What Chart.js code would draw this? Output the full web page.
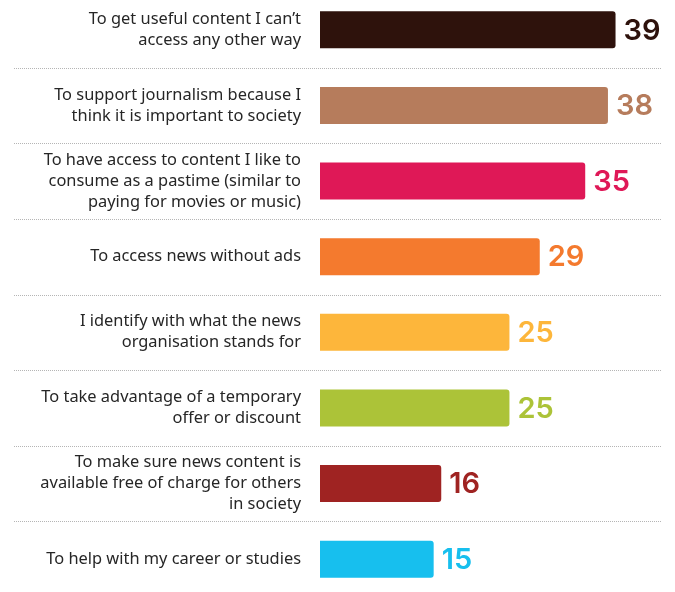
<!DOCTYPE html>
<html>
<head>
<meta charset="utf-8">
<script src="https://cdn.jsdelivr.net/npm/chart.js@4"></script>
<style>
    html, body { margin: 0; padding: 0; background: #fff; overflow: hidden; }
    #wrap { position: absolute; left: 0; top: -8px; width: 675px; height: 605px; }
</style>
</head>
<body>
<div id="wrap"><canvas id="reasonChart"></canvas></div>
<script>
// reasons for paying for online news (%)
var reasons = [
    ['To get useful content I can\u2019t', 'access any other way'],
    ['To support journalism because I', 'think it is important to society'],
    ['To have access to content I like to', 'consume as a pastime (similar to', 'paying for movies or music)'],
    ['To access news without ads'],
    ['I identify with what the news', 'organisation stands for'],
    ['To take advantage of a temporary', 'offer or discount'],
    ['To make sure news content is', 'available free of charge for others', 'in society'],
    ['To help with my career or studies']
];
var percents = [39, 38, 35, 29, 25, 25, 16, 15];
var barColors = ['#2e120c', '#b67c5c', '#df1857', '#f47a2e', '#fdb63b', '#acc338', '#9f2322', '#17bfee'];

// dotted separators between the rows
var separatorPlugin = {
    id: 'separators',
    beforeDatasetsDraw: function (chart) {
        var ctx = chart.ctx;
        var yScale = chart.scales.y;
        ctx.save();
        ctx.strokeStyle = '#b5b5b5';
        ctx.lineWidth = 1;
        ctx.setLineDash([1, 1]);
        for (var i = 0; i < reasons.length - 1; i++) {
            var y = Math.round((yScale.getPixelForValue(i) + yScale.getPixelForValue(i + 1)) / 2) + 0.5;
            ctx.beginPath();
            ctx.moveTo(14, y);
            ctx.lineTo(chart.chartArea.right, y);
            ctx.stroke();
        }
        ctx.restore();
    }
};

// value at the end of each bar
var valuePlugin = {
    id: 'values',
    afterDatasetsDraw: function (chart) {
        var ctx = chart.ctx;
        var meta = chart.getDatasetMeta(0);
        ctx.save();
        ctx.font = '600 29px Inter';
        ctx.textAlign = 'left';
        ctx.textBaseline = 'middle';
        meta.data.forEach(function (bar, i) {
            ctx.fillStyle = barColors[i];
            ctx.fillText(percents[i], bar.x + 8, bar.y + 1);
        });
        ctx.restore();
    }
};

const chartData = {
    labels: reasons,
    datasets: [{
        data: percents,
        backgroundColor: barColors,
        borderRadius: 3,
        borderSkipped: 'left',
        barPercentage: 0.49,
        categoryPercentage: 1
    }]
};

const chartConfig = {
    type: 'bar',
    data: chartData,
    options: {
        indexAxis: 'y',
        responsive: true,
        maintainAspectRatio: false,
        animation: false,
        layout: { padding: { top: 0, bottom: 0, left: 0, right: 14 } },
        plugins: {
            legend: { display: false },
            tooltip: { enabled: false }
        },
        scales: {
            x: {
                display: false,
                min: 0,
                max: 45
            },
            y: {
                afterFit: function (scale) {
                    scale.width = 320;
                    scale.paddingTop = 0;
                    scale.paddingBottom = 0;
                },
                grid: { display: false, drawTicks: false },
                border: { display: false },
                ticks: {
                    padding: 19,
                    color: '#262626',
                    font: { family: 'Noto Sans', size: 16.4, lineHeight: 1.28 }
                }
            }
        }
    },
    plugins: [separatorPlugin, valuePlugin]
};

new Chart(document.getElementById('reasonChart'), chartConfig);
</script>
</body>
</html>
